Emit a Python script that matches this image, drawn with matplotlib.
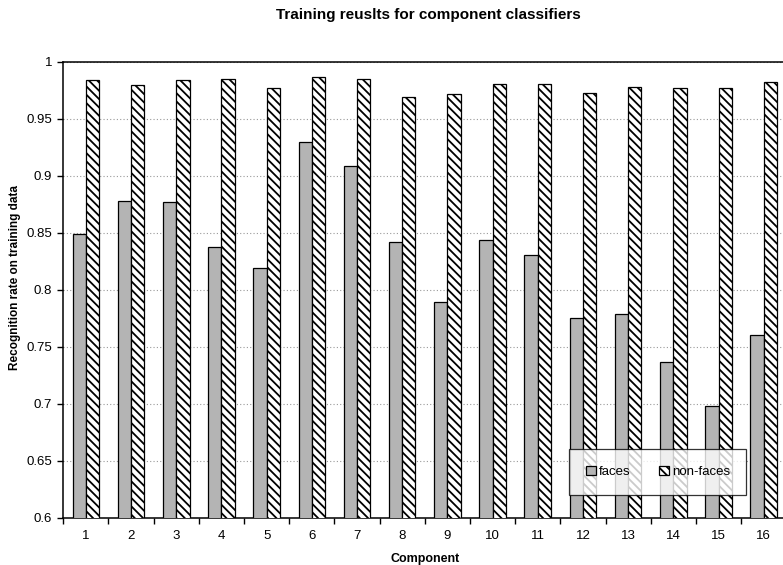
import numpy as np
import matplotlib
matplotlib.use('Agg')

import matplotlib.pyplot as plt
from matplotlib.ticker import FixedLocator

plt.rcParams['font.family'] = ['Liberation Sans', 'DejaVu Sans']
plt.rcParams['hatch.linewidth'] = 1.3
plt.rcParams['hatch.color'] = '#3a3a3a'

components = list(range(1, 17))
faces = [0.849, 0.878, 0.877, 0.838, 0.819, 0.930, 0.909, 0.842,
         0.789, 0.844, 0.831, 0.775, 0.779, 0.737, 0.698, 0.760]
non_faces = [0.984, 0.980, 0.984, 0.985, 0.977, 0.987, 0.985, 0.969,
             0.972, 0.981, 0.981, 0.973, 0.978, 0.977, 0.977, 0.982]

fig = plt.figure(figsize=(7.83, 5.65), dpi=100)
ax = fig.add_axes([0.0808, 0.0837, 0.9234, 0.8066])

x = np.array(components)
w = 0.294
ax.bar(x - w / 2, faces, width=w, color='#b4b4b4', edgecolor='black',
       linewidth=0.9, label='faces', zorder=3)
ax.bar(x + w / 2, non_faces, width=w, color='white', edgecolor='black',
       linewidth=0.9, hatch='\\\\\\\\', label='non-faces', zorder=3)

ax.set_xlim(0.5, 16.5)
ax.set_ylim(0.6, 1.0)
ax.set_yticks(np.arange(0.6, 1.0001, 0.05))
ax.set_yticklabels(['0.6', '0.65', '0.7', '0.75', '0.8', '0.85', '0.9', '0.95', '1'])
ax.set_xticks(x)
ax.set_xticklabels([str(c) for c in components])
ax.xaxis.set_minor_locator(FixedLocator(np.arange(0.5, 16.6, 1.0)))
ax.tick_params(axis='x', which='major', length=0, pad=9, labelsize=9.5)
ax.tick_params(axis='x', which='minor', length=4, width=1, direction='out')
ax.tick_params(axis='y', length=4, width=1, direction='out', labelsize=9.5, pad=4)

ax.grid(axis='y', which='major', linestyle=(0, (1, 2)), color='#999999',
        linewidth=0.8, zorder=0)
ax.spines['right'].set_visible(False)
for s in ['left', 'bottom', 'top']:
    ax.spines[s].set_linewidth(1.1)
    ax.spines[s].set_color('black')

ax.set_xlabel('Component', fontsize=9, fontweight='bold', labelpad=8)
ax.set_ylabel('Recognition rate on training data', fontsize=8.5,
              fontweight='bold')
ax.yaxis.set_label_coords(-0.0585, 0.527)
fig.text(0.547, 0.973, 'Training reuslts for component classifiers',
         ha='center', va='center', fontsize=11, fontweight='bold')

leg = ax.legend(loc='lower left', bbox_to_anchor=(0.700, 0.0505, 0.2447, 0.10),
                mode='expand', ncol=2, fontsize=9.5, frameon=True,
                fancybox=False, edgecolor='black', borderpad=1.25,
                handlelength=0.75, handleheight=0.75, handletextpad=0.2,
                borderaxespad=0)
leg.get_frame().set_linewidth(0.9)
leg.set_zorder(5)

fig.savefig('out.png', dpi=100)
